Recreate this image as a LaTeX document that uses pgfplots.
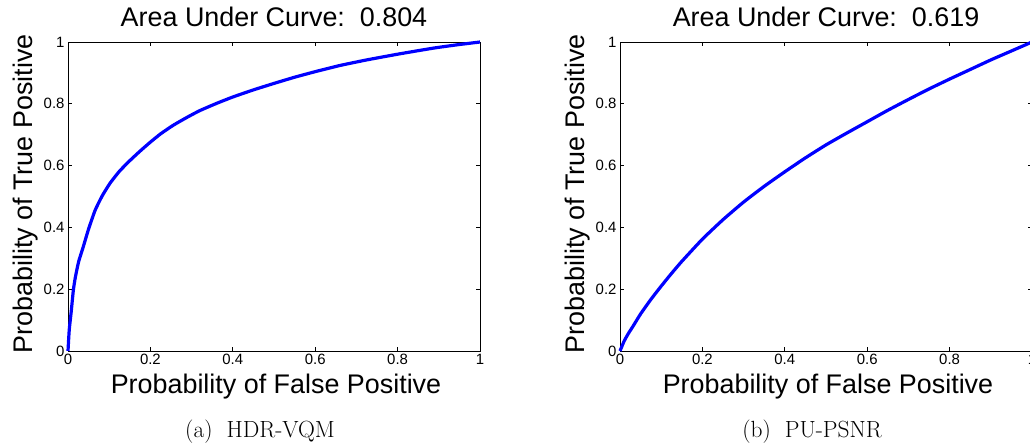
\documentclass[border=0pt]{standalone}
\usepackage{fontspec}
\newfontfamily\helv{Liberation Sans}
\usepackage{pgfplots}
\pgfplotsset{compat=1.18}
\pgfplotsset{rocstyle/.style={
  width=412bp, height=309bp, scale only axis,
  xmin=0, xmax=1, ymin=0, ymax=1,
  xtick={0,0.2,0.4,0.6,0.8,1}, ytick={0,0.2,0.4,0.6,0.8,1},
  xticklabels={0,0.2,0.4,0.6,0.8,1}, yticklabels={0,0.2,0.4,0.6,0.8,1},
  tick align=inside, major tick length=4bp,
  axis line style={line width=0.9bp},
  every tick/.style={black, line width=0.8bp},
  tick label style={font=\helv\fontsize{15}{17}\selectfont},
  /pgf/number format/assume math mode=true,
  clip=false,
}}
\begin{document}
\begin{tikzpicture}
\useasboundingbox (0,0) rectangle (1030bp,-443bp);
% ---------- (a) HDR-VQM ----------
\begin{axis}[rocstyle, at={(68bp,-351bp)}, anchor=south west]
\addplot[blue, line width=3.2bp, smooth, tension=0.3] table {
x y
0     0
0.003 0.068
0.008 0.130
0.013 0.197
0.018 0.240
0.026 0.290
0.037 0.337
0.050 0.395
0.066 0.456
0.083 0.502
0.102 0.543
0.125 0.582
0.150 0.616
0.175 0.647
0.200 0.676
0.225 0.703
0.256 0.731
0.290 0.757
0.320 0.778
0.360 0.801
0.400 0.822
0.450 0.845
0.500 0.866
0.550 0.886
0.600 0.904
0.660 0.924
0.725 0.942
0.802 0.961
0.886 0.980
0.945 0.991
1     1
};
\end{axis}
% ---------- (b) PU-PSNR ----------
\begin{axis}[rocstyle, at={(620bp,-351bp)}, anchor=south west]
\addplot[blue, line width=3.2bp, smooth, tension=0.3] table {
x y
0     0
0.010 0.032
0.020 0.056
0.032 0.081
0.050 0.120
0.075 0.167
0.100 0.210
0.125 0.251
0.150 0.290
0.200 0.362
0.250 0.425
0.300 0.482
0.350 0.533
0.400 0.580
0.450 0.625
0.500 0.667
0.550 0.705
0.600 0.742
0.650 0.779
0.700 0.814
0.750 0.848
0.800 0.880
0.850 0.911
0.900 0.942
0.950 0.971
1     1
};
\end{axis}
% ---------- texts ----------
\node[anchor=base, font=\helv\fontsize{27}{30}\selectfont] at (274bp,-26bp) {Area Under Curve:\ \ 0.804};
\node[anchor=base, font=\helv\fontsize{27}{30}\selectfont] at (826bp,-26bp) {Area Under Curve:\ \ 0.619};
\node[anchor=base, font=\helv\fontsize{27}{30}\selectfont] at (276bp,-393bp) {Probability of False Positive};
\node[anchor=base, font=\helv\fontsize{27}{30}\selectfont] at (828bp,-393bp) {Probability of False Positive};
\node[anchor=base, rotate=90, font=\helv\fontsize{27}{30}\selectfont] at (32bp,-194bp) {Probability of True Positive};
\node[anchor=base, rotate=90, font=\helv\fontsize{27}{30}\selectfont] at (584bp,-194bp) {Probability of True Positive};
\node[anchor=base, font=\fontsize{23.5}{28}\selectfont] at (260bp,-437bp) {(a)\hspace{0.6em}HDR-VQM};
\node[anchor=base, font=\fontsize{23.5}{28}\selectfont] at (812bp,-437bp) {(b)\hspace{0.6em}PU-PSNR};
\end{tikzpicture}
\end{document}
